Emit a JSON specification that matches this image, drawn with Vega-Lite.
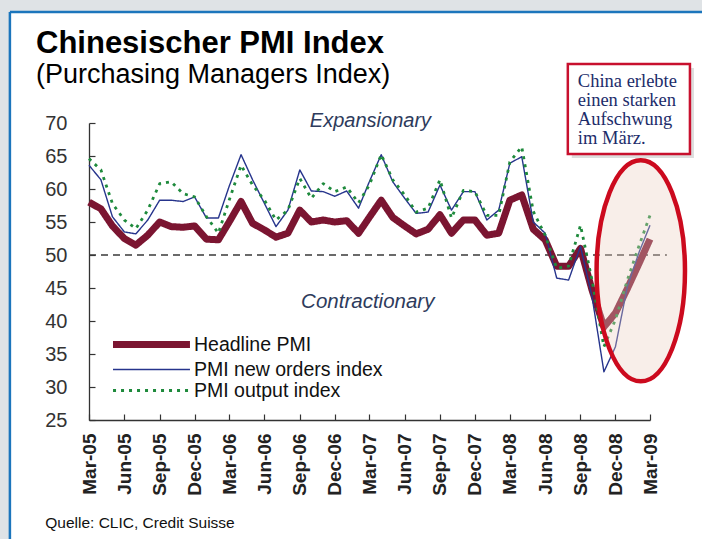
{
  "$schema": "https://vega.github.io/schema/vega-lite/v6.json",
  "autosize": "none",
  "width": 561,
  "height": 297,
  "padding": {"left": 89, "top": 123, "right": 52, "bottom": 119},
  "background": "white",
  "config": {
    "font": "Liberation Sans",
    "view": {"stroke": null},
    "axis": {"grid": false, "domainColor": "#333333", "domainWidth": 1.3, "tickColor": "#333333", "tickWidth": 1.2, "labelColor": "#222222", "labelFont": "Liberation Sans", "title": null}
  },
  "datasets": {
    "pmi": [
    {"month": "2005-03-01", "Headline PMI": 58.0, "PMI new orders index": 63.6, "PMI output index": 64.6},
    {"month": "2005-04-01", "Headline PMI": 57.0, "PMI new orders index": 61.4, "PMI output index": 62.9},
    {"month": "2005-05-01", "Headline PMI": 54.4, "PMI new orders index": 55.8, "PMI output index": 57.8},
    {"month": "2005-06-01", "Headline PMI": 52.5, "PMI new orders index": 53.5, "PMI output index": 55.3},
    {"month": "2005-07-01", "Headline PMI": 51.5, "PMI new orders index": 53.2, "PMI output index": 54.0},
    {"month": "2005-08-01", "Headline PMI": 53.0, "PMI new orders index": 55.3, "PMI output index": 56.8},
    {"month": "2005-09-01", "Headline PMI": 55.0, "PMI new orders index": 58.3, "PMI output index": 60.8},
    {"month": "2005-10-01", "Headline PMI": 54.3, "PMI new orders index": 58.3, "PMI output index": 61.1},
    {"month": "2005-11-01", "Headline PMI": 54.2, "PMI new orders index": 58.1, "PMI output index": 59.3},
    {"month": "2005-12-01", "Headline PMI": 54.4, "PMI new orders index": 58.8, "PMI output index": 58.8},
    {"month": "2006-01-01", "Headline PMI": 52.4, "PMI new orders index": 55.6, "PMI output index": 55.8},
    {"month": "2006-02-01", "Headline PMI": 52.3, "PMI new orders index": 55.6, "PMI output index": 53.3},
    {"month": "2006-03-01", "Headline PMI": 55.0, "PMI new orders index": 60.4, "PMI output index": 58.3},
    {"month": "2006-04-01", "Headline PMI": 58.1, "PMI new orders index": 65.2, "PMI output index": 63.6},
    {"month": "2006-05-01", "Headline PMI": 54.8, "PMI new orders index": 61.4, "PMI output index": 60.6},
    {"month": "2006-06-01", "Headline PMI": 53.8, "PMI new orders index": 57.8, "PMI output index": 58.3},
    {"month": "2006-07-01", "Headline PMI": 52.7, "PMI new orders index": 54.3, "PMI output index": 55.3},
    {"month": "2006-08-01", "Headline PMI": 53.3, "PMI new orders index": 56.8, "PMI output index": 56.8},
    {"month": "2006-09-01", "Headline PMI": 56.8, "PMI new orders index": 62.9, "PMI output index": 61.6},
    {"month": "2006-10-01", "Headline PMI": 55.0, "PMI new orders index": 59.7, "PMI output index": 58.6},
    {"month": "2006-11-01", "Headline PMI": 55.3, "PMI new orders index": 59.6, "PMI output index": 60.8},
    {"month": "2006-12-01", "Headline PMI": 55.0, "PMI new orders index": 58.9, "PMI output index": 59.6},
    {"month": "2007-01-01", "Headline PMI": 55.2, "PMI new orders index": 59.7, "PMI output index": 60.3},
    {"month": "2007-02-01", "Headline PMI": 53.3, "PMI new orders index": 57.1, "PMI output index": 57.9},
    {"month": "2007-03-01", "Headline PMI": 55.7, "PMI new orders index": 61.1, "PMI output index": 60.6},
    {"month": "2007-04-01", "Headline PMI": 58.3, "PMI new orders index": 65.2, "PMI output index": 65.2},
    {"month": "2007-05-01", "Headline PMI": 55.7, "PMI new orders index": 61.1, "PMI output index": 61.4},
    {"month": "2007-06-01", "Headline PMI": 54.4, "PMI new orders index": 58.6, "PMI output index": 59.1},
    {"month": "2007-07-01", "Headline PMI": 53.2, "PMI new orders index": 56.3, "PMI output index": 56.5},
    {"month": "2007-08-01", "Headline PMI": 53.9, "PMI new orders index": 56.5, "PMI output index": 57.1},
    {"month": "2007-09-01", "Headline PMI": 56.1, "PMI new orders index": 60.6, "PMI output index": 61.4},
    {"month": "2007-10-01", "Headline PMI": 53.3, "PMI new orders index": 56.8, "PMI output index": 55.6},
    {"month": "2007-11-01", "Headline PMI": 55.3, "PMI new orders index": 59.6, "PMI output index": 59.8},
    {"month": "2007-12-01", "Headline PMI": 55.3, "PMI new orders index": 59.6, "PMI output index": 59.6},
    {"month": "2008-01-01", "Headline PMI": 53.0, "PMI new orders index": 55.3, "PMI output index": 56.0},
    {"month": "2008-02-01", "Headline PMI": 53.3, "PMI new orders index": 56.8, "PMI output index": 56.0},
    {"month": "2008-03-01", "Headline PMI": 58.3, "PMI new orders index": 63.9, "PMI output index": 64.1},
    {"month": "2008-04-01", "Headline PMI": 59.1, "PMI new orders index": 64.9, "PMI output index": 66.4},
    {"month": "2008-05-01", "Headline PMI": 53.9, "PMI new orders index": 55.0, "PMI output index": 56.6},
    {"month": "2008-06-01", "Headline PMI": 52.3, "PMI new orders index": 53.3, "PMI output index": 53.0},
    {"month": "2008-07-01", "Headline PMI": 48.3, "PMI new orders index": 46.5, "PMI output index": 48.0},
    {"month": "2008-08-01", "Headline PMI": 48.3, "PMI new orders index": 46.2, "PMI output index": 48.3},
    {"month": "2008-09-01", "Headline PMI": 51.0, "PMI new orders index": 51.3, "PMI output index": 54.5},
    {"month": "2008-10-01", "Headline PMI": 44.7, "PMI new orders index": 43.7, "PMI output index": 46.2},
    {"month": "2008-11-01", "Headline PMI": 39.1, "PMI new orders index": 32.3, "PMI output index": 36.1},
    {"month": "2008-12-01", "Headline PMI": 41.2, "PMI new orders index": 36.1, "PMI output index": 40.2},
    {"month": "2009-01-01", "Headline PMI": 44.9, "PMI new orders index": 45.2, "PMI output index": 46.2},
    {"month": "2009-02-01", "Headline PMI": 48.8, "PMI new orders index": 50.5, "PMI output index": 51.5},
    {"month": "2009-03-01", "Headline PMI": 52.4, "PMI new orders index": 54.5, "PMI output index": 56.0}
    ],
    "one": [{}]
  },
  "data": {"name": "one"},
  "encoding": {
    "x": {"type": "temporal", "scale": {"type": "utc", "domain": [{"year": 2005, "month": 3, "date": 1, "utc": true}, {"year": 2009, "month": 3, "date": 1, "utc": true}]},
      "axis": {"format": "%b-%y", "labelAngle": 270, "labelAlign": "right", "labelBaseline": "middle", "labelFontSize": 19, "labelFontWeight": "bold", "tickSize": -6, "labelPadding": 19, "labelOverlap": false, "labelFlush": false,
        "values": [
          {"year": 2005, "month": 3, "date": 1, "utc": true}, {"year": 2005, "month": 6, "date": 1, "utc": true}, {"year": 2005, "month": 9, "date": 1, "utc": true}, {"year": 2005, "month": 12, "date": 1, "utc": true},
          {"year": 2006, "month": 3, "date": 1, "utc": true}, {"year": 2006, "month": 6, "date": 1, "utc": true}, {"year": 2006, "month": 9, "date": 1, "utc": true}, {"year": 2006, "month": 12, "date": 1, "utc": true},
          {"year": 2007, "month": 3, "date": 1, "utc": true}, {"year": 2007, "month": 6, "date": 1, "utc": true}, {"year": 2007, "month": 9, "date": 1, "utc": true}, {"year": 2007, "month": 12, "date": 1, "utc": true},
          {"year": 2008, "month": 3, "date": 1, "utc": true}, {"year": 2008, "month": 6, "date": 1, "utc": true}, {"year": 2008, "month": 9, "date": 1, "utc": true}, {"year": 2008, "month": 12, "date": 1, "utc": true},
          {"year": 2009, "month": 3, "date": 1, "utc": true}]}},
    "y": {"type": "quantitative", "scale": {"domain": [25, 70], "nice": false, "zero": false},
      "axis": {"values": [25, 30, 35, 40, 45, 50, 55, 60, 65, 70], "labelFontSize": 20, "tickSize": -6, "labelPadding": 28, "labelColor": "#333333"}}
  },
  "layer": [
    {"mark": {"type": "rect", "fill": "#dfe3e6"},
     "encoding": {"x": {"datum": {"year": 2003, "month": 1, "date": 1, "utc": true}}, "x2": {"datum": {"year": 2004, "month": 8, "date": 7, "utc": true}},
       "y": {"datum": 100}, "y2": {"datum": 0}}},
    {"mark": {"type": "rect", "fill": "#dfe3e6"},
     "encoding": {"x": {"datum": {"year": 2003, "month": 1, "date": 1, "utc": true}}, "x2": {"datum": {"year": 2011, "month": 1, "date": 1, "utc": true}},
       "y": {"datum": 100}, "y2": {"datum": 86.8}}},
    {"mark": {"type": "rule", "color": "#1b75bc", "strokeWidth": 2.5},
     "encoding": {"x": {"datum": {"year": 2004, "month": 8, "date": 7, "utc": true}}, "y": {"datum": 86.8}, "y2": {"datum": 0}}},
    {"mark": {"type": "rule", "color": "#1b75bc", "strokeWidth": 2.5},
     "encoding": {"x": {"datum": {"year": 2004, "month": 8, "date": 7, "utc": true}}, "x2": {"datum": {"year": 2011, "month": 1, "date": 1, "utc": true}}, "y": {"datum": 86.8}}},
    {"mark": {"type": "rule", "color": "#3a3a3a", "strokeWidth": 1.6, "strokeDash": [7, 5]},
     "encoding": {"x": {"datum": {"year": 2005, "month": 3, "date": 1, "utc": true}}, "x2": {"datum": {"year": 2009, "month": 4, "date": 14, "utc": true}}, "y": {"datum": 50}}},
    {"data": {"name": "pmi"},
     "transform": [{"fold": ["Headline PMI", "PMI new orders index", "PMI output index"], "as": ["series", "value"]}],
     "mark": {"type": "line", "strokeCap": "butt", "strokeJoin": "round"},
     "encoding": {
       "x": {"field": "month", "type": "temporal"},
       "y": {"field": "value", "type": "quantitative"},
       "color": {"field": "series", "type": "nominal", "scale": {"domain": ["Headline PMI", "PMI new orders index", "PMI output index"], "range": ["#7b1531", "#26348c", "#1e8a3c"]},
         "legend": {"title": null, "orient": "none", "legendX": 49, "legendY": 208, "symbolType": "M-4,0H4", "symbolSize": 370, "labelFontSize": 19.5, "labelColor": "#111111", "labelFont": "Liberation Sans", "labelOffset": 29, "labelLimit": 400, "rowPadding": -1, "padding": 0}},
       "strokeWidth": {"field": "series", "type": "nominal", "scale": {"type": "ordinal", "domain": ["Headline PMI", "PMI new orders index", "PMI output index"], "range": [7, 1.4, 2.8]}},
       "strokeDash": {"field": "series", "type": "nominal", "scale": {"domain": ["Headline PMI", "PMI new orders index", "PMI output index"], "range": [[1, 0], [1, 0], [3, 5]]}}
     }},
    {"mark": {"type": "point", "shape": "M0,-1A0.4,1,0,1,1,0,1A0.4,1,0,1,1,0,-1Z", "size": 48841, "filled": true, "fill": "#ebcdc0", "fillOpacity": 0.35, "stroke": "#cc0a1e", "strokeWidth": 4.5, "strokeOpacity": 1, "opacity": 1},
     "encoding": {"x": {"datum": {"year": 2009, "month": 2, "date": 5, "utc": true}}, "y": {"datum": 47.6}}},
    {"mark": {"type": "rect", "fill": "#bbbbbb", "opacity": 0.5, "xOffset": 4, "x2Offset": 4, "yOffset": 4, "y2Offset": 4},
     "encoding": {"x": {"datum": {"year": 2008, "month": 7, "date": 30, "utc": true}}, "x2": {"datum": {"year": 2009, "month": 6, "date": 13, "utc": true}}, "y": {"datum": 78.94}, "y2": {"datum": 65.3}}},
    {"mark": {"type": "rect", "fill": "white", "stroke": "#c8102e", "strokeWidth": 2.5},
     "encoding": {"x": {"datum": {"year": 2008, "month": 7, "date": 30, "utc": true}}, "x2": {"datum": {"year": 2009, "month": 6, "date": 13, "utc": true}}, "y": {"datum": 78.94}, "y2": {"datum": 65.3}}},
    {"mark": {"type": "text", "text": ["China erlebte", "einen starken", "Aufschwung", "im März."], "font": "Liberation Serif", "fontSize": 18.5, "lineHeight": 19.2, "align": "left", "baseline": "alphabetic", "color": "#1c2c6a"},
     "encoding": {"x": {"datum": {"year": 2008, "month": 8, "date": 25, "utc": true}}, "y": {"datum": 75.5}}},
    {"mark": {"type": "text", "text": "Expansionary", "fontStyle": "italic", "fontSize": 20, "align": "center", "baseline": "middle", "color": "#2e3b5c"},
     "encoding": {"x": {"datum": {"year": 2007, "month": 3, "date": 4, "utc": true}}, "y": {"datum": 70.3}}},
    {"mark": {"type": "text", "text": "Contractionary", "fontStyle": "italic", "fontSize": 20.5, "align": "center", "baseline": "middle", "color": "#2e3b5c"},
     "encoding": {"x": {"datum": {"year": 2007, "month": 2, "date": 25, "utc": true}}, "y": {"datum": 42.9}}},
    {"mark": {"type": "text", "text": "Chinesischer PMI Index", "fontWeight": "bold", "fontSize": 31, "align": "left", "baseline": "alphabetic", "color": "#000000"},
     "encoding": {"x": {"datum": {"year": 2004, "month": 10, "date": 14, "utc": true}}, "y": {"datum": 80.61}}},
    {"mark": {"type": "text", "text": "(Purchasing Managers Index)", "fontSize": 27, "align": "left", "baseline": "alphabetic", "color": "#000000"},
     "encoding": {"x": {"datum": {"year": 2004, "month": 10, "date": 14, "utc": true}}, "y": {"datum": 76.06}}},
    {"mark": {"type": "text", "text": "Quelle: CLIC, Credit Suisse", "fontSize": 15.5, "align": "left", "baseline": "alphabetic", "color": "#111111"},
     "encoding": {"x": {"datum": {"year": 2004, "month": 11, "date": 7, "utc": true}}, "y": {"datum": 8.64}}}
  ]
}
